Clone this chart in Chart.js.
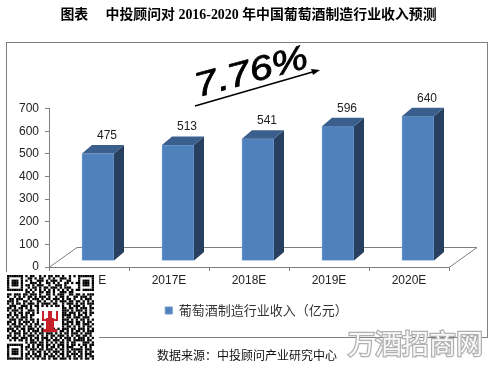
<!DOCTYPE html>
<html>
<head>
<meta charset="utf-8">
<style>
  html, body { margin: 0; padding: 0; background: #fff; }
  #wrap { width: 497px; height: 369px; }
</style>
<script src="https://cdn.jsdelivr.net/npm/chart.js@4/dist/chart.umd.min.js"></script>
</head>
<body>
<div id="wrap"><canvas id="chart"></canvas></div>
<script>
const categories = ['2016E', '2017E', '2018E', '2019E', '2020E'];
const revenue = [475, 513, 541, 596, 640];
const seriesName = '葡萄酒制造行业收入（亿元）';
const titleText = '图表　 中投顾问对 2016-2020 年中国葡萄酒制造行业收入预测';
const sourceText = '数据来源：中投顾问产业研究中心';
const watermarkText = '万酒招商网';
const growthText = '7.76%';

// hand typed from the picture, not a scannable code
const qrRows = [
  '#######.#.##..#.#.##.##.#..#.#.#######',
  '#.....#..##.#.##..#.#..###.#...#.....#',
  '#.###.#.#.#..###.#.###.#..##...#.###.#',
  '#.###.#...###.#..##.#.#..##.#.##.###.#',
  '#.###.#.##.#.###..#..###.#.....#.###.#',
  '#.....#..#.##.#.##.###.#.###...#.....#',
  '#######.#.#.#.#.#.#.#.#.#.#.#.##.#####',
  '........##.#..##.##.#..###.##.........',
  '##.###.##.###.#..##.#.###..##.##.#.###',
  '#..#.#.#.##.#.###.#..#.##.#..##.###.#.',
  '.##.###..#.###.#.##.###.#.##.#..#.###.',
  '###.#..##.#..##.#..#.#.###.##.##.#.#.#',
  '#.#.##.#.###.#.####.##..#.###.#.##.###',
  '.###..###.#.##.#.#.#.##.#..#.###.#..#.',
  '##.#.##.#.#..#..........##.##.#.###.##',
  '#.###.#..###.#..........###.#.###.#.#.',
  '.#.#.##.##.#.#..........##.###.#.##.##',
  '##.##.#.#.##............####.#.##.#.#.',
  '#.#.#.###.#.............#.##.###.###.',
  '.###.##.#.##.#..........###.#.#.##.#.#',
  '##.#.#.###.#.#..........#.###.##.#.##',
  '#.##.##.#.#.##.#........###.#.##.###.#',
  '.#.###.#.##.#.#.........#.##.#.#.#.##.',
  '###.#.##.###.#.#.##.#.#.###.##.###.#.#',
  '#.##.#.#.#.###.##.#.##.##.#.#.##.#.###',
  '.#.###.##.#.#.##.###.#.#.##.###.#.###.',
  '##.#.#.#.###.#.#.#.##.###.#.#.##.##.#.',
  '#.###.###.#.##.###.#.#.#.###.#.###.#.#',
  '.#.#.##.#.##.#.#.##.###.#.##.#####.##.',
  '........#.###.##.#.#.#.##.#.##...###.#',
  '#######..#.#.###.##.#.###.#.##.#.##.##',
  '#.....#.##.#.#.#.#.##.#.#.###...#.#.#.',
  '#.###.#.#.###.##.###.#.##.#.#####.###.',
  '#.###.#..#.#.##.#.#.###.#.##.#.##.#.##',
  '#.###.#.##.##.#.##.#.#.##.#.###.#.###.',
  '#.....#.#.#.###.#.###.#.#.##.#.##.#.##',
  '#######.##.#.#.##.#.##.###.#.##.#.##.#'
];

const barShift = { x: 9, y: -6 };
const depth = { x: 10, y: -8.5 };
const floor = { x: 28, y: -20 };

const scene = {
  id: 'scene',
  beforeDraw(chart) {
    const ctx = chart.ctx;
    ctx.save();
    ctx.fillStyle = '#fff';
    ctx.fillRect(0, 0, chart.width, chart.height);
    ctx.strokeStyle = '#808080';
    ctx.lineWidth = 1;
    ctx.strokeRect(6.5, 42.5, 481, 295);
    ctx.restore();
  },
  afterLayout(chart) {
    // the plot leaves room on the right, title and legend do not follow it
    chart.titleBlock.left = 0;
    chart.titleBlock.right = chart.width;
    chart.legend.left += 32;
    chart.legend.right += 32;
  },
  beforeDatasetsDraw(chart) {
    const ctx = chart.ctx;
    const { left, right, bottom } = chart.chartArea;
    ctx.save();
    ctx.strokeStyle = '#808080';
    ctx.lineWidth = 1;
    ctx.beginPath();
    ctx.moveTo(left, bottom + 0.5);
    ctx.lineTo(left + floor.x, bottom + floor.y + 0.5);
    ctx.lineTo(right + floor.x, bottom + floor.y + 0.5);
    ctx.lineTo(right, bottom + 0.5);
    ctx.stroke();
    ctx.restore();
  },
  beforeDatasetDraw(chart) {
    chart.ctx.save();
    chart.ctx.translate(barShift.x, barShift.y);
  },
  afterDatasetDraw(chart) {
    const ctx = chart.ctx;
    chart.getDatasetMeta(0).data.forEach((bar, i) => {
      const l = bar.x - bar.width / 2;
      const r = bar.x + bar.width / 2;
      ctx.fillStyle = '#27405f';
      ctx.beginPath();
      ctx.moveTo(r, bar.y);
      ctx.lineTo(r + depth.x, bar.y + depth.y);
      ctx.lineTo(r + depth.x, bar.base + depth.y);
      ctx.lineTo(r, bar.base);
      ctx.closePath();
      ctx.fill();
      ctx.fillStyle = '#3b5f8c';
      ctx.beginPath();
      ctx.moveTo(l, bar.y);
      ctx.lineTo(l + depth.x, bar.y + depth.y);
      ctx.lineTo(r + depth.x, bar.y + depth.y);
      ctx.lineTo(r, bar.y);
      ctx.closePath();
      ctx.fill();
      ctx.fillStyle = '#222';
      ctx.font = '12px "Liberation Sans"';
      ctx.textAlign = 'center';
      ctx.textBaseline = 'middle';
      ctx.fillText(revenue[i], bar.x + 9, bar.y - 18);
    });
    ctx.restore();
  },
  afterDraw(chart) {
    const ctx = chart.ctx;
    ctx.save();

    // growth note
    ctx.save();
    ctx.translate(198, 97);
    ctx.rotate(-15 * Math.PI / 180);
    ctx.scale(1.2, 1);
    ctx.fillStyle = '#000';
    ctx.strokeStyle = '#000';
    ctx.lineWidth = 0.8;
    ctx.font = 'italic 34px "Liberation Sans"';
    ctx.textAlign = 'left';
    ctx.textBaseline = 'alphabetic';
    ctx.fillText(growthText, 0, 0);
    ctx.strokeText(growthText, 0, 0);
    ctx.restore();

    ctx.strokeStyle = '#000';
    ctx.lineWidth = 1.5;
    ctx.beginPath();
    ctx.moveTo(195, 106);
    ctx.lineTo(316, 71);
    ctx.stroke();
    ctx.fillStyle = '#000';
    ctx.beginPath();
    ctx.moveTo(320, 70);
    ctx.lineTo(311, 69);
    ctx.lineTo(313, 75);
    ctx.closePath();
    ctx.fill();

    // source
    ctx.fillStyle = '#111';
    ctx.font = '12px "Noto Sans CJK SC"';
    ctx.textAlign = 'left';
    ctx.textBaseline = 'middle';
    ctx.fillText(sourceText, 157, 355);

    // watermark
    ctx.font = '27px "Noto Sans CJK SC"';
    ctx.lineWidth = 2.5;
    ctx.strokeStyle = '#b0b0b0';
    ctx.fillStyle = '#f8f8f8';
    ctx.strokeText(watermarkText, 348, 344);
    ctx.fillText(watermarkText, 348, 344);

    // qr block sits over the corner of the chart
    ctx.fillStyle = '#fff';
    ctx.fillRect(0, 272, 99, 97);
    ctx.fillStyle = '#000';
    const m = 87 / 38;
    qrRows.forEach((row, y) => {
      [...row].forEach((c, x) => {
        if (c === '#') ctx.fillRect(7 + x * m, 275 + y * m, m, m);
      });
    });
    ctx.fillStyle = '#c8202a';
    ctx.fillRect(46, 318, 8, 11);
    ctx.fillRect(43, 329, 14, 3);
    ctx.fillRect(48, 311, 4, 7);
    ctx.fillRect(42, 311, 2, 9);
    ctx.fillRect(56, 311, 2, 9);
    ctx.fillRect(42, 319, 6, 2);
    ctx.fillRect(52, 319, 6, 2);
    ctx.restore();
  }
};

new Chart(document.getElementById('chart'), {
  type: 'bar',
  data: {
    labels: categories,
    datasets: [{
      label: seriesName,
      data: revenue,
      backgroundColor: '#4f81bd',
      borderColor: '#6d97c9',
      borderWidth: 1,
      barThickness: 32
    }]
  },
  options: {
    responsive: true,
    maintainAspectRatio: false,
    animation: false,
    layout: {
      padding: { top: 7, right: 48, bottom: 42, left: 0 }
    },
    plugins: {
      title: {
        display: true,
        text: titleText,
        color: '#000',
        font: { family: '"Liberation Serif", "Noto Sans CJK SC"', size: 13.9, weight: 'bold' },
        padding: { top: 0, bottom: 85 }
      },
      legend: {
        position: 'bottom',
        labels: {
          boxWidth: 7,
          boxHeight: 7,
          padding: 8,
          color: '#333',
          font: { family: '"Noto Sans CJK SC"', size: 13 }
        }
      },
      tooltip: { enabled: false }
    },
    scales: {
      x: {
        grid: { drawOnChartArea: false, color: '#808080', tickLength: 4 },
        border: { color: '#808080' },
        ticks: {
          color: '#222',
          padding: 2,
          maxRotation: 0,
          font: { family: '"Liberation Sans"', size: 12 }
        },
        afterFit(scale) { scale.height = 29; }
      },
      y: {
        min: 0,
        max: 700,
        grid: { drawOnChartArea: false, color: '#808080', tickLength: 4 },
        border: { color: '#808080' },
        ticks: {
          stepSize: 100,
          color: '#222',
          padding: 6,
          font: { family: '"Liberation Sans"', size: 12 }
        },
        afterFit(scale) { scale.width = 49; }
      }
    }
  },
  plugins: [scene]
});
</script>
</body>
</html>
